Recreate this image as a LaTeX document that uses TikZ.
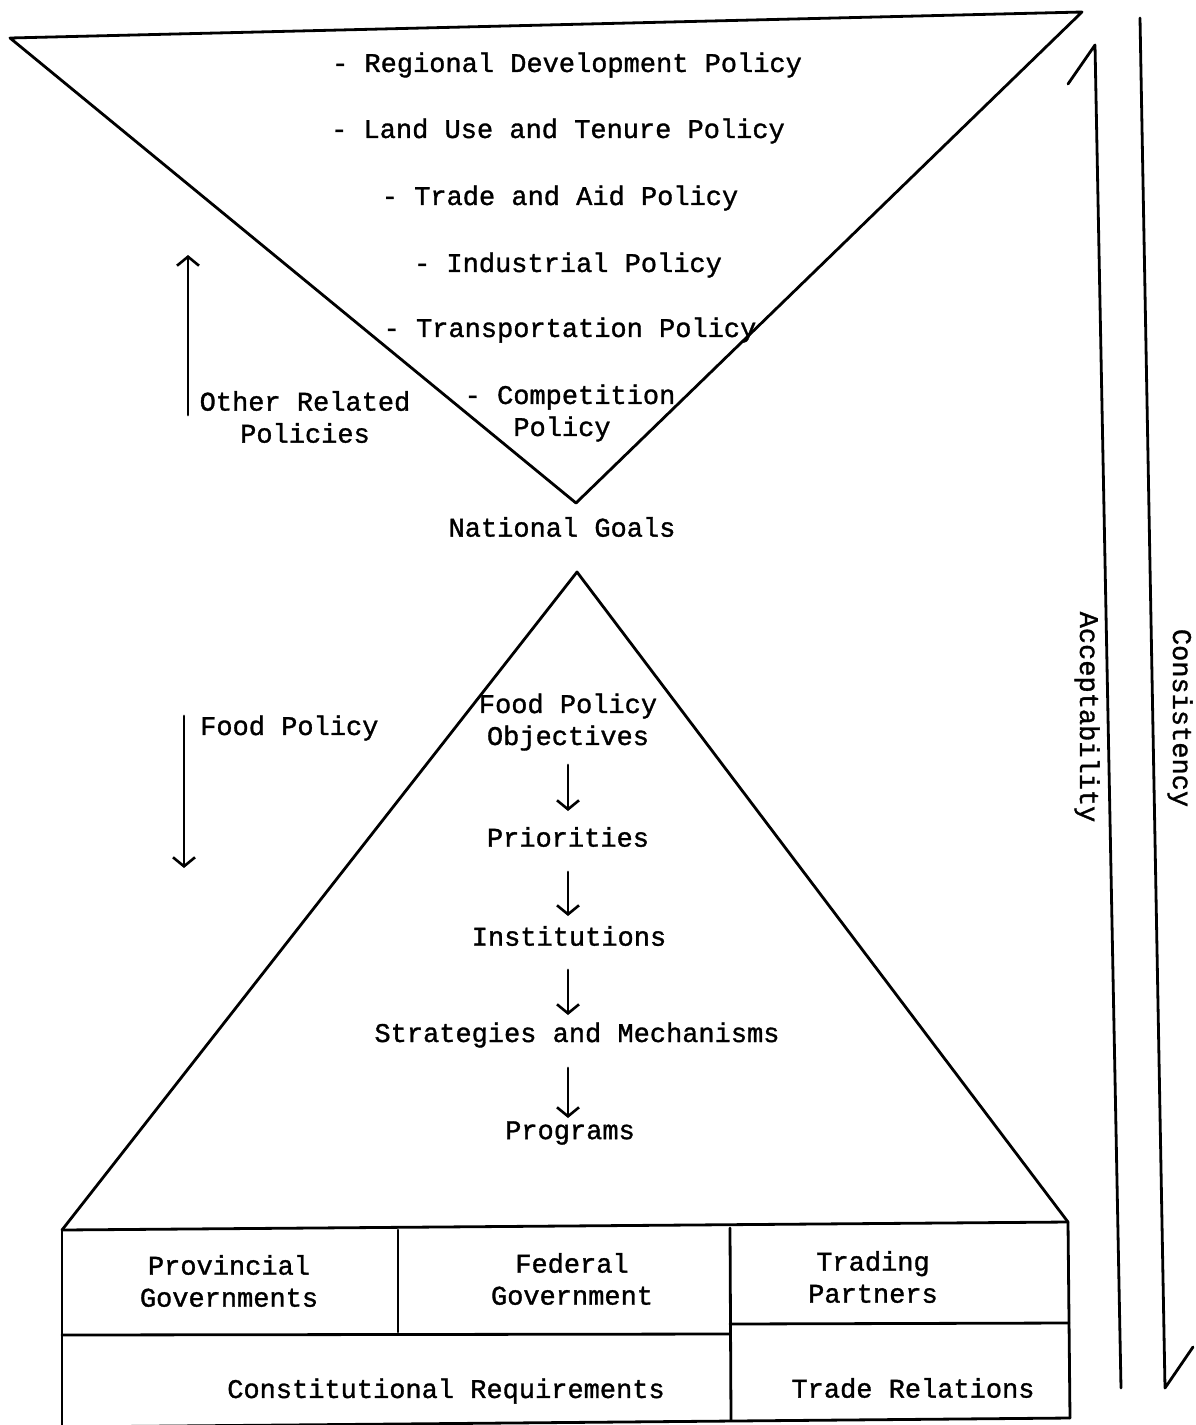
\documentclass[tikz,border=0pt]{standalone}
\usepackage{fontspec}
\setmonofont[FakeBold=1.2]{Liberation Mono}
\usetikzlibrary{arrows.meta}
\begin{document}
\begin{tikzpicture}[x=1pt,y=-1pt,
  txt/.style={font=\ttfamily\fontsize{27}{32}\selectfont, inner sep=0pt, align=center},
  ln/.style={line width=2.8pt, line cap=round, line join=round},
  arr/.style={ln, -{Straight Barb[length=9pt,width=22pt,line width=2.6pt]}}
]
\useasboundingbox (0,0) rectangle (1196,1425);
% top inverted triangle
\coordinate (tl) at (10,38);
\coordinate (tr) at (1082,12);
\coordinate (ta) at (576,503);
\draw[ln] (tl) -- (tr) -- (ta) -- cycle;
% lower triangle
\coordinate (ba) at (577,572);
\coordinate (bl) at (62,1230);
\coordinate (br) at (1068,1222);
\draw[ln] (bl) -- (ba) -- (br);
% box
\draw[ln] (bl) -- (br);
\draw[ln] (bl) -- (62,1430);
\draw[ln] (br) -- (1070,1418);
\draw[ln] (62,1427) -- (1070,1418);
\draw[ln] (398,1230) -- (398,1332);
\draw[ln] (730,1228) -- (731,1420);
\draw[ln] (62,1335) -- (730,1334);
\draw[ln] (730,1324) -- (1069,1323);

% policies
\node[txt] (p1) at (567,65) {- Regional Development Policy};
\node[txt] (p2) at (558,131) {- Land Use and Tenure Policy};
\node[txt] (p3) at (560,198) {- Trade and Aid Policy};
\node[txt] (p4) at (568,265) {- Industrial Policy};
\node[txt] (p5) at (570,330) {- Transportation Policy};
\node[txt] (p6) at (570,397) {- Competition};
\node[txt] (p6b) at (562,429) {Policy};
\node[txt, align=center] (orp) at (305,417) {Other Related\\Policies};
\node[txt] (ng) at (562,527) {National Goals};
\node[txt, anchor=west] (fp) at (200,728) {Food Policy};

% left arrows
\coordinate (ua1) at (188,415);
\coordinate (ua2) at (188,255);
\draw[arr] (ua1) -- (ua2);
\coordinate (da1) at (184,716);
\coordinate (da2) at (184,868);
\draw[arr] (da1) -- (da2);

% food policy chain
\node[txt] (fpo) at (568,722) {Food Policy\\Objectives};
\node[txt] (pri) at (568,837) {Priorities};
\node[txt] (ins) at (569,936) {Institutions};
\node[txt] (str) at (577,1035) {Strategies and Mechanisms};
\node[txt] (prg) at (570,1133) {Programs};
\draw[arr] (568,765) -- (568,811);
\draw[arr] (568,872) -- (568,916);
\draw[arr] (568,970) -- (568,1015);
\draw[arr] (568,1068) -- (568,1118);

% box texts
\node[txt] (prov) at (229,1281) {Provincial\\Governments};
\node[txt] (fed) at (572,1279) {Federal\\Government};
\node[txt] (trp) at (873,1277) {Trading\\Partners};
\node[txt] (con) at (446,1391) {Constitutional Requirements};
\node[txt] (trr) at (913,1388) {Trade Relations};

% right lines
\coordinate (ab) at (1068,84);
\coordinate (at) at (1095,45);
\coordinate (abot) at (1121,1388);
\draw[ln] (ab) -- (at) -- (abot);
\coordinate (ct) at (1140,18);
\coordinate (cb) at (1165,1388);
\coordinate (cbb) at (1193,1347);
\draw[ln] (ct) -- (cb) -- (cbb);
\node[txt, rotate=-90] (acc) at (1087,717) {Acceptability};
\node[txt, rotate=-90] (cons) at (1180,718) {Consistency};
\end{tikzpicture}
\end{document}
